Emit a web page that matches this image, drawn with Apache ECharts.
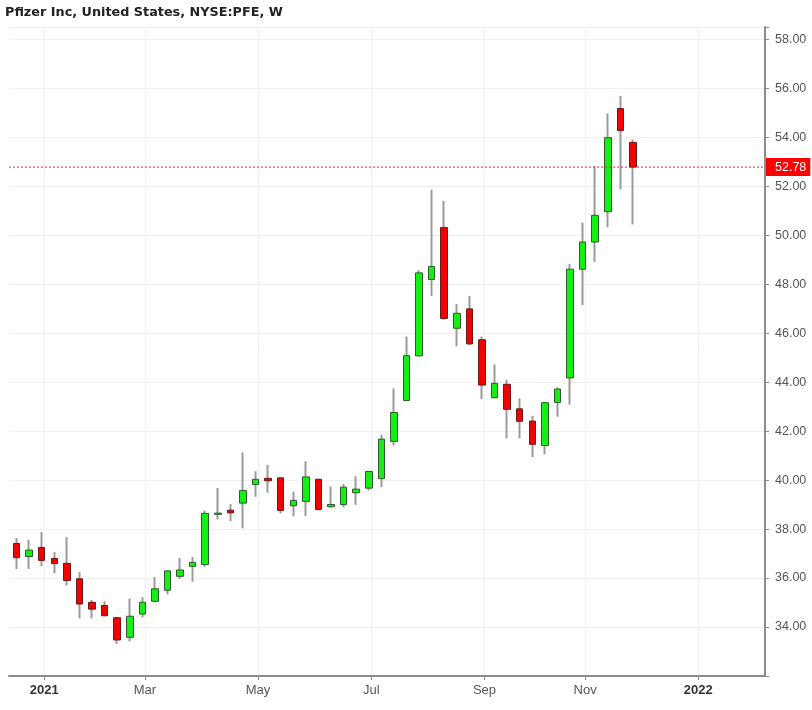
<!DOCTYPE html>
<html><head><meta charset="utf-8">
<script src="https://cdn.jsdelivr.net/npm/echarts@6/dist/echarts.min.js"></script>
<style>html,body{margin:0;padding:0;background:#fff}#c{width:812px;height:710px}</style>
</head><body><div id="c"></div>
<script>
const chartTitle = 'Pfizer Inc, United States, NYSE:PFE, W';
// weekly candles, week index 0 = week of 2020-12-21
const opens  = [37.41,36.88,37.25,36.80,36.60,35.97,35.01,34.88,34.38,33.58,
                34.53,35.05,35.50,36.07,36.48,36.55,38.60,38.77,39.06,39.82,
                40.07,40.09,38.95,39.13,40.03,38.91,39.00,39.48,39.67,40.06,
                41.58,43.25,45.07,48.19,50.31,46.20,46.99,45.73,43.36,43.91,
                42.91,42.41,41.41,43.17,44.17,48.61,49.72,50.96,55.17,53.79];
const closes = [36.83,37.14,36.72,36.59,35.90,34.94,34.73,34.46,33.47,34.44,
                35.01,35.56,36.29,36.33,36.64,38.64,38.65,38.66,39.57,40.03,
                39.97,38.76,39.17,40.13,38.80,39.00,39.71,39.63,40.35,41.67,
                42.76,45.08,48.46,48.72,46.60,46.81,45.56,43.88,43.95,42.89,
                42.40,41.46,43.16,43.72,48.61,49.72,50.81,53.98,54.27,52.78];
const lows   = [36.37,36.37,36.48,36.20,35.70,34.35,34.35,34.44,33.31,33.41,
                34.39,35.03,35.33,35.97,35.85,36.46,38.39,38.33,38.03,39.32,
                39.48,38.64,38.52,38.53,38.75,38.88,38.89,38.99,39.57,39.71,
                41.41,43.22,45.05,47.52,46.54,45.46,45.51,43.31,43.34,41.70,
                41.70,40.94,41.05,42.59,43.08,47.15,48.91,50.33,51.87,50.44];
const highs  = [37.63,37.56,37.88,37.06,37.67,36.24,35.10,35.05,34.40,35.16,
                35.22,36.04,36.31,36.82,36.86,38.75,39.68,39.02,41.13,40.36,
                40.62,40.12,39.53,40.77,40.06,39.74,39.84,40.16,40.37,41.85,
                43.74,45.86,48.57,51.86,51.40,47.19,47.52,45.86,44.72,44.10,
                43.34,42.61,43.20,43.78,48.83,50.51,52.82,54.97,55.69,53.91];
// month-start positions on the weekly scale (week index)
const xTickWeekIndex = [2.2, 10.2, 19.2, 28.2, 37.2, 45.2, 54.2];
const xTickLabels = ['2021', 'Mar', 'May', 'Jul', 'Sep', 'Nov', '2022'];
const yTickValues = [34, 36, 38, 40, 42, 44, 46, 48, 50, 52, 54, 56, 58];
const xMin = -0.6, xMax = 59.5;

const ohlc = opens.map((o, i) => [i, o, closes[i], lows[i], highs[i]]);
const bodies = opens.map((o, i) => [i, o, closes[i], Math.min(o, closes[i]), Math.max(o, closes[i])]);
const lastClose = closes[closes.length - 1];

const chart = echarts.init(document.getElementById('c'), null, {renderer: 'canvas'});
chart.setOption({
  animation: false,
  backgroundColor: '#ffffff',
  title: {
    text: chartTitle, left: 0, top: 1,
    textStyle: {fontFamily: 'DejaVu Sans, sans-serif', fontSize: 12.8, fontWeight: 'bold', color: '#222'}
  },
  grid: {left: 9, right: 47, top: 27, bottom: 34, containLabel: false},
  xAxis: {
    type: 'value', min: xMin, max: xMax,
    axisLine: {show: true, onZero: false, lineStyle: {color: '#8c8c8c', width: 2}},
    axisTick: {show: true, customValues: xTickWeekIndex, length: 4, lineStyle: {color: '#8c8c8c'}},
    axisLabel: {
      customValues: xTickWeekIndex, margin: 8,
      fontFamily: 'Liberation Sans Narrow, Arial Narrow, Liberation Sans, sans-serif', fontSize: 13, color: '#555',
      formatter: v => {
        let k = -1;
        xTickWeekIndex.forEach((w, j) => { if (Math.abs(w - v) < 0.05) k = j; });
        if (k < 0) return '';
        const t = xTickLabels[k];
        return /^\d{4}$/.test(t) ? '{y|' + t + '}' : t;
      },
      rich: {y: {fontFamily: 'Liberation Sans Narrow, Arial Narrow, Liberation Sans, sans-serif', fontSize: 13, fontWeight: 'bold', color: '#333'}}
    },
    splitLine: {show: true, lineStyle: {color: '#f1f1f1', width: 1}}
  },
  yAxis: {
    type: 'value', position: 'right', min: 32, max: 58.5, interval: 2,
    axisLine: {show: true, onZero: false, lineStyle: {color: '#8c8c8c', width: 2}},
    axisTick: {show: true, length: 4, lineStyle: {color: '#8c8c8c'}},
    axisLabel: {
      margin: 10, color: '#555', fontSize: 12.5, fontFamily: 'Liberation Sans, Arial, sans-serif',
      formatter: v => yTickValues.indexOf(v) >= 0 ? v.toFixed(2) : ''
    },
    splitLine: {show: true, lineStyle: {color: '#f0f0f0', width: 1}}
  },
  series: [
    {
      name: 'wick', type: 'candlestick', data: ohlc, barWidth: 1, silent: true,
      itemStyle: {color: '#9a9a9a', color0: '#9a9a9a', borderColor: '#9a9a9a', borderColor0: '#9a9a9a', borderWidth: 2}
    },
    {
      name: 'PFE', type: 'candlestick', data: bodies, barWidth: 7, silent: true, z: 3,
      itemStyle: {color: '#14f014', color0: '#f50000', borderColor: '#2e5a2e', borderColor0: '#6a1a1a', borderWidth: 1}
    },
    {
      name: 'last', type: 'line', silent: true, z: 4, symbol: 'none', showSymbol: false,
      data: [[xMin, lastClose], [xMax, lastClose]],
      lineStyle: {color: '#ff1a1a', type: [2, 2], width: 1},
      itemStyle: {color: '#ff1a1a'},
      endLabel: {
        show: true, distance: 1, formatter: lastClose.toFixed(2),
        backgroundColor: '#ff0000', color: '#fff', fontSize: 12.5,
        fontFamily: 'Liberation Sans, Arial, sans-serif', padding: [3, 4, 2, 9]
      }
    }
  ]
});
</script></body></html>
